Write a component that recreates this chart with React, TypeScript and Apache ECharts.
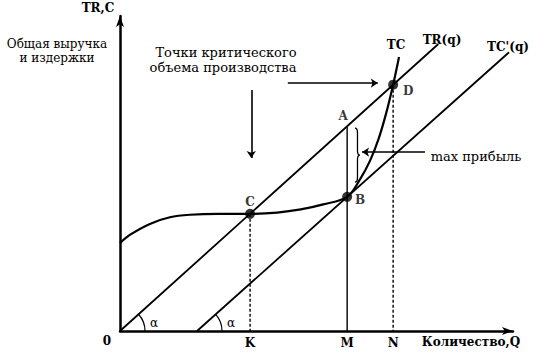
import React, { useEffect, useRef } from "react";
import * as echarts from "echarts";

// Abstract units: quantity Q on 0..100, revenue / cost on 0..100
const trRevenue: number[][] = [[0, 0], [81, 91.1]];
const tcShifted: number[][] = [[19.6, 0], [99, 88.5]];
const tcCost: number[][] = [
  [0, 27.9], [2.5, 30.5], [7.6, 34.0], [12.7, 36.1], [17.8, 36.9], [25, 37.2],
  [33.1, 37.2], [40, 37.6], [46, 38.6], [51.7, 40.2], [57.8, 42.6],
  [61.1, 48.2], [63.6, 54.0], [65.8, 61.0], [67.7, 69.0], [69.5, 78.2], [71.0, 87.0],
];
const dotNames = ["C", "B", "D"];
const dotValues: number[][] = [[33.1, 37.2], [57.8, 42.6], [69.5, 78.2]];
const dotLabelOffsets: number[][] = [[0, -12], [13, 3], [15, 6]];
const pointA: number[] = [57.8, 65.0];
const qTickValues = [33.1, 57.8, 69.5];
const qTickLabels = ["K", "M", "N"];
const dropK: number[][] = [[33.1, 37.2], [33.1, 0]];
const dropM: number[][] = [[57.8, 65.0], [57.8, 0]];
const dropN: number[][] = [[69.5, 78.2], [69.5, 0]];
const arrowDown: number[][] = [[33.4, 76.5], [33.4, 54.9]];
const arrowRight: number[][] = [[42.7, 78.7], [65.6, 78.7]];
const arrowProfit: number[][] = [[77.6, 56.8], [61.6, 56.8]];
const braceSpan: number[][] = [[60.3, 64.4, 47.3]];
const angleVertices: number[][] = [[0, 0, 1.125], [19.6, 0, 1.115]];

const SERIF = "'DejaVu Serif', 'Liberation Serif', serif";
const BRACE = "M0 0 Q5 0 5 8 L5 42 Q5 50 10 50 Q5 50 5 58 L5 92 Q5 100 0 100";

function txt(text: string, x: number, y: number, size = 12, bold = false) {
  return {
    type: "text",
    x,
    y,
    style: {
      text,
      font: `${bold ? "bold " : ""}${size}px ${SERIF}`,
      fill: "#000",
      align: "center",
      verticalAlign: "middle",
      textAlign: "center",
      textVerticalAlign: "middle",
    },
  };
}

export default function App() {
  const ref = useRef<HTMLDivElement>(null);
  useEffect(() => {
    if (!ref.current) return;
    const chart = echarts.init(ref.current, undefined, { renderer: "svg" });
    const black = "#000";
    chart.setOption({
      animation: false,
      backgroundColor: "#fff",
      grid: { left: 120, right: 28, top: 16, bottom: 28 },
      xAxis: {
        type: "value",
        min: 0,
        max: 100,
        splitLine: { show: false },
        axisTick: { show: false },
        axisLine: {
          show: true,
          symbol: ["none", "arrow"],
          symbolSize: [6, 11],
          lineStyle: { color: black, width: 2.5 },
        },
        axisLabel: {
          customValues: qTickValues,
          formatter: (v: number) => {
            const i = qTickValues.findIndex((q) => Math.abs(q - v) < 0.01);
            return i >= 0 ? qTickLabels[i] : "";
          },
          color: black,
          fontFamily: SERIF,
          fontSize: 12,
          fontWeight: "bold",
          margin: 6,
        },
      },
      yAxis: {
        type: "value",
        min: 0,
        max: 100,
        splitLine: { show: false },
        axisTick: { show: false },
        axisLabel: { show: false },
        axisLine: {
          show: true,
          symbol: ["none", "arrow"],
          symbolSize: [6, 11],
          lineStyle: { color: black, width: 2.5 },
        },
      },
      series: [
        {
          name: "TR(q)",
          type: "line",
          data: trRevenue,
          showSymbol: false,
          lineStyle: { color: black, width: 1.8 },
        },
        {
          name: "TC'(q)",
          type: "line",
          data: tcShifted,
          showSymbol: false,
          lineStyle: { color: black, width: 1.8 },
        },
        {
          name: "TC",
          type: "line",
          data: tcCost,
          showSymbol: false,
          smooth: 0.35,
          lineStyle: { color: black, width: 2.2 },
        },
        {
          type: "line",
          data: dropK,
          showSymbol: false,
          lineStyle: { color: black, width: 1.4, type: [3, 2] },
        },
        {
          type: "line",
          data: dropM,
          showSymbol: false,
          lineStyle: { color: black, width: 1.4 },
        },
        {
          type: "line",
          data: dropN,
          showSymbol: false,
          lineStyle: { color: black, width: 1.4, type: [3, 2] },
        },
        {
          type: "scatter",
          symbolSize: 10,
          itemStyle: { color: black },
          data: dotValues.map((v, i) => ({
            value: v,
            name: dotNames[i],
            label: {
              show: true,
              position: "inside",
              offset: dotLabelOffsets[i],
              formatter: dotNames[i],
              color: black,
              fontFamily: SERIF,
              fontSize: 12,
              fontWeight: "bold",
            },
          })),
          z: 5,
        },
        {
          type: "scatter",
          symbolSize: 0,
          data: [
            {
              value: pointA,
              label: {
                show: true,
                position: "inside",
                offset: [-4, -10],
                formatter: "A",
                color: black,
                fontFamily: SERIF,
                fontSize: 12,
                fontWeight: "bold",
              },
            },
          ],
        },
        {
          type: "lines",
          coordinateSystem: "cartesian2d",
          symbol: ["none", "arrow"],
          symbolSize: 7,
          lineStyle: { color: black, width: 1.6, opacity: 1 },
          data: [arrowDown, arrowRight, arrowProfit].map((c) => ({ coords: c })),
        },
        {
          type: "custom",
          data: braceSpan,
          renderItem: (_p: any, api: any) => {
            const top = api.coord([api.value(0), api.value(1)]);
            const bot = api.coord([api.value(0), api.value(2)]);
            return {
              type: "path",
              shape: {
                pathData: BRACE,
                x: top[0] - 2,
                y: top[1],
                width: 5,
                height: bot[1] - top[1],
                layout: "cover",
              },
              style: { fill: "none", stroke: black, lineWidth: 1.3 },
            };
          },
        },
        {
          type: "custom",
          data: angleVertices,
          renderItem: (_p: any, api: any) => {
            const x0 = api.value(0);
            const y0 = api.value(1);
            const k = api.value(2);
            const c = api.coord([x0, y0]);
            const p = api.coord([x0 + 10, y0 + 10 * k]);
            const ang = Math.atan2(p[1] - c[1], p[0] - c[0]);
            return {
              type: "group",
              children: [
                {
                  type: "arc",
                  shape: { cx: c[0], cy: c[1], r: 25, startAngle: ang, endAngle: 0, clockwise: true },
                  style: { stroke: black, fill: "none", lineWidth: 1.2 },
                },
                {
                  type: "text",
                  x: c[0] + 34,
                  y: c[1] - 8,
                  style: {
                    text: "α",
                    font: `12px ${SERIF}`,
                    fill: black,
                    align: "center",
                    verticalAlign: "middle",
                  },
                },
              ],
            };
          },
        },
      ],
      graphic: [
        txt("TR,C", 98, 8, 12, true),
        txt("Общая выручка", 57, 44),
        txt("и издержки", 57, 58),
        txt("Точки критического", 226, 52, 13),
        txt("объема производства", 223, 67, 13),
        txt("TC", 396, 45, 12, true),
        txt("TR(q)", 442, 40, 12, true),
        txt("TC'(q)", 508, 47, 12, true),
        txt("max прибыль", 476, 156, 13),
        txt("Количество,Q", 471, 342, 12, true),
        txt("0", 107, 341, 12, true),
      ],
    });
    return () => chart.dispose();
  }, []);
  return (
    <div
      ref={ref}
      style={{ position: "fixed", left: 0, top: 0, width: 541, height: 359, background: "#fff" }}
    />
  );
}
